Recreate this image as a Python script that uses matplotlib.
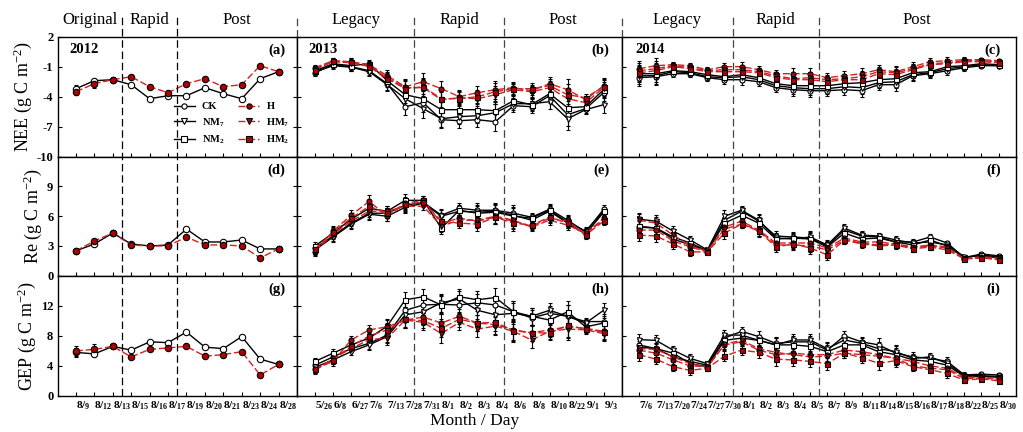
import matplotlib
matplotlib.use('Agg')
import matplotlib.pyplot as plt
from matplotlib.lines import Line2D
import matplotlib.transforms as mtransforms

plt.rcParams['font.family'] = 'Liberation Serif'
plt.rcParams['mathtext.fontset'] = 'custom'
plt.rcParams['mathtext.rm'] = 'Liberation Serif:bold'
plt.rcParams['mathtext.it'] = 'Liberation Serif:italic:bold'
plt.rcParams['mathtext.bf'] = 'Liberation Serif:bold'

# ---------------- data ----------------
dates_2012 = ['8/9', '8/12', '8/13', '8/15', '8/16', '8/17', '8/19', '8/20', '8/21', '8/23', '8/24', '8/28']
dates_2013 = ['5/26', '6/8', '6/27', '7/6', '7/13', '7/28', '7/31', '8/1', '8/2', '8/3', '8/4', '8/6', '8/8',
              '8/10', '8/22', '9/1', '9/3']
dates_2014 = ['7/6', '7/13', '7/20', '7/24', '7/27', '7/30', '8/1', '8/2', '8/3', '8/4', '8/5', '8/7', '8/9',
              '8/11', '8/14', '8/15', '8/16', '8/17', '8/18', '8/22', '8/25', '8/30']

phases_2012 = ['Original', 'Rapid', 'Post']
phases_2013 = ['Legacy', 'Rapid', 'Post']
phases_2014 = ['Legacy', 'Rapid', 'Post']

# 2012 (CK and H only)
nee_2012_ck = [-3.2, -2.4, -2.3, -2.8, -4.2, -3.9, -3.9, -3.1, -3.7, -4.2, -2.2, -1.5]
nee_2012_h = [-3.5, -2.7, -2.3, -2.0, -3.0, -3.6, -2.7, -2.2, -3.0, -2.8, -0.9, -1.5]
nee_2012_ck_err = [0.35, 0.2, 0, 0, 0, 0, 0, 0, 0, 0, 0, 0]
nee_2012_h_err = [0.3, 0.4, 0, 0, 0, 0, 0, 0, 0, 0, 0, 0]
re_2012_ck = [2.5, 3.2, 4.3, 3.2, 3.0, 3.1, 4.7, 3.4, 3.4, 3.6, 2.7, 2.7]
re_2012_h = [2.5, 3.5, 4.3, 3.1, 3.0, 3.0, 3.9, 3.1, 3.1, 3.0, 1.8, 2.7]
gep_2012_ck = [5.8, 5.6, 6.6, 6.1, 7.2, 7.1, 8.5, 6.5, 6.3, 7.9, 4.9, 4.2]
gep_2012_h = [6.0, 6.2, 6.6, 5.2, 6.2, 6.4, 6.6, 5.3, 5.5, 5.9, 2.8, 4.2]
gep_2012_ck_err = [0.6, 0.3, 0, 0, 0, 0, 0, 0, 0, 0, 0, 0]
gep_2012_h_err = [0.7, 0.7, 0, 0, 0, 0, 0, 0, 0, 0, 0, 0]

# 2013
nee_2013_ck = [-1.6, -0.8, -1.0, -1.4, -2.7, -5.0, -4.6, -6.3, -6.4, -6.3, -6.5, -4.9, -5.0, -3.9, -5.8, -5.2, -3.6]
nee_2013_nm7 = [-1.5, -0.9, -1.05, -1.5, -2.8, -4.2, -5.2, -6.2, -6.0, -5.9, -5.6, -4.7, -4.7, -4.5, -6.2, -5.3, -4.8]
nee_2013_nm2 = [-1.4, -0.7, -0.9, -0.7, -2.4, -3.8, -4.2, -5.3, -5.3, -5.3, -5.4, -4.4, -4.8, -3.7, -5.1, -5.0, -3.3]
nee_2013_h = [-1.1, -0.4, -0.5, -0.8, -1.9, -3.0, -2.5, -3.2, -4.0, -3.6, -3.3, -3.1, -3.4, -2.7, -3.3, -4.3, -2.9]
nee_2013_hm7 = [-1.2, -0.5, -0.6, -0.9, -2.1, -3.1, -3.1, -4.3, -4.1, -4.2, -3.8, -3.3, -3.5, -3.1, -4.2, -4.6, -3.1]
nee_2013_hm2 = [-1.3, -0.45, -0.55, -1.0, -2.2, -3.2, -3.0, -4.2, -4.2, -4.0, -3.5, -3.2, -3.2, -2.9, -3.8, -4.1, -3.0]
nee_2013_err = [0.3, 0.3, 0.4, 0.4, 0.6, 0.8, 0.9, 0.8, 0.7, 0.7, 0.9, 0.6, 0.6, 0.7, 1.1, 0.4, 0.8]

re_2013_ck = [2.8, 4.0, 5.3, 6.3, 6.3, 7.1, 7.4, 6.1, 6.8, 6.6, 6.6, 6.3, 5.9, 6.7, 5.6, 4.4, 6.7]
re_2013_nm7 = [2.6, 3.9, 5.2, 6.2, 6.0, 6.9, 7.3, 6.0, 6.5, 6.4, 6.5, 6.1, 5.6, 6.5, 5.3, 4.2, 6.4]
re_2013_nm2 = [3.0, 4.3, 5.7, 6.8, 6.5, 7.6, 7.6, 4.8, 6.6, 6.3, 6.4, 6.0, 5.8, 6.6, 5.4, 4.5, 6.5]
re_2013_h = [2.4, 4.5, 6.1, 7.5, 6.0, 7.3, 7.6, 5.3, 5.8, 5.5, 5.9, 5.5, 5.0, 5.8, 5.5, 4.2, 5.8]
re_2013_hm7 = [2.5, 4.2, 5.5, 6.5, 6.5, 7.0, 7.0, 5.0, 5.6, 5.6, 6.0, 5.6, 4.9, 5.6, 5.1, 4.3, 5.6]
re_2013_hm2 = [2.7, 4.4, 5.8, 7.0, 6.3, 7.2, 7.4, 5.5, 5.3, 5.2, 5.9, 5.3, 5.1, 5.9, 5.3, 4.1, 5.5]
re_2013_err = [0.4, 0.5, 0.5, 0.6, 0.5, 0.6, 0.4, 0.6, 0.5, 0.7, 0.7, 0.8, 0.4, 0.5, 0.5, 0.4, 0.4]

gep_2013_ck = [4.1, 5.2, 6.3, 7.0, 8.1, 11.4, 12.1, 12.2, 12.1, 12.4, 12.1, 11.2, 10.4, 11.0, 10.6, 9.9, 9.9]
gep_2013_nm7 = [3.8, 4.8, 5.9, 6.8, 7.9, 10.8, 11.2, 12.4, 12.9, 11.4, 10.8, 11.0, 10.6, 11.4, 10.6, 9.7, 11.4]
gep_2013_nm2 = [4.6, 5.7, 6.8, 7.7, 9.3, 12.8, 13.2, 12.1, 13.2, 12.8, 13.1, 11.2, 10.6, 10.1, 11.2, 9.2, 9.7]
gep_2013_h = [3.6, 4.6, 7.45, 8.8, 9.2, 10.1, 10.5, 9.7, 10.6, 9.7, 9.5, 8.8, 8.4, 8.8, 9.2, 9.0, 8.6]
gep_2013_hm7 = [3.4, 5.0, 6.3, 7.5, 7.7, 10.1, 9.8, 8.3, 9.8, 8.9, 9.3, 8.6, 7.45, 8.6, 8.9, 8.8, 8.3]
gep_2013_hm2 = [3.55, 4.8, 6.6, 8.0, 8.8, 10.2, 10.0, 9.0, 10.2, 9.7, 9.8, 8.7, 8.4, 8.4, 9.4, 8.9, 8.5]
gep_2013_err = [0.5, 0.6, 0.5, 0.7, 0.9, 1.0, 1.0, 1.2, 1.0, 1.1, 1.2, 1.4, 1.1, 1.0, 1.5, 0.5, 1.0]

# 2014
nee_2014_ck = [-2.1, -2.0, -1.7, -1.7, -2.1, -2.3, -2.3, -2.5, -3.1, -3.3, -3.4, -3.4, -3.3, -3.4, -2.8, -2.8,
               -1.9, -1.7, -1.4, -1.1, -0.9, -0.9]
nee_2014_nm7 = [-1.9, -1.9, -1.5, -1.6, -2.0, -2.1, -2.0, -2.3, -2.9, -3.1, -3.2, -3.2, -3.0, -3.1, -2.6, -2.5,
                -1.8, -1.6, -1.2, -1.0, -0.8, -0.9]
nee_2014_nm2 = [-1.7, -1.7, -1.4, -1.5, -1.8, -2.0, -1.8, -2.1, -2.7, -2.9, -2.9, -2.9, -2.7, -2.6, -2.3, -2.2,
                -1.6, -1.5, -1.0, -0.9, -0.7, -0.8]
nee_2014_h = [-1.2, -0.9, -0.8, -0.9, -1.3, -1.0, -1.0, -1.3, -1.7, -1.7, -1.7, -2.1, -1.9, -1.7, -1.3, -1.5,
              -1.0, -0.5, -0.4, -0.3, -0.3, -0.4]
nee_2014_hm7 = [-1.4, -1.2, -0.9, -1.1, -1.4, -1.3, -1.3, -1.5, -1.9, -2.2, -2.1, -2.3, -2.2, -2.0, -1.5, -1.6,
                -1.2, -0.7, -0.6, -0.4, -0.4, -0.5]
nee_2014_hm2 = [-1.6, -1.4, -1.0, -1.2, -1.5, -1.5, -1.5, -1.6, -2.1, -2.3, -2.3, -2.5, -2.3, -2.3, -1.7, -1.8,
                -1.3, -0.8, -0.7, -0.5, -0.5, -0.6]
nee_2014_err = [0.8, 0.8, 0.3, 0.3, 0.3, 0.4, 0.5, 0.4, 0.4, 0.6, 0.6, 0.5, 0.5, 0.6, 0.5, 0.6, 0.5, 0.4, 0.4,
                0.3, 0.2, 0.2]

re_2014_ck = [4.9, 4.8, 3.7, 3.1, 2.5, 5.6, 6.5, 5.5, 4.0, 3.9, 3.8, 3.0, 4.6, 4.0, 3.9, 3.4, 3.4, 3.9, 3.3, 1.8,
              2.2, 2.0]
re_2014_nm7 = [5.7, 5.5, 4.5, 3.6, 2.6, 6.0, 6.6, 5.6, 3.8, 3.7, 3.9, 3.1, 4.8, 4.1, 4.0, 3.6, 3.3, 3.4, 3.1, 1.9,
               2.0, 1.8]
re_2014_nm2 = [5.0, 4.8, 3.9, 3.3, 2.5, 5.3, 6.1, 5.3, 3.7, 3.8, 3.7, 2.9, 4.3, 3.7, 3.8, 3.4, 3.1, 3.6, 3.0, 1.8,
               2.1, 1.9]
re_2014_h = [4.6, 4.6, 3.5, 2.9, 2.4, 4.9, 5.5, 4.6, 3.3, 3.3, 3.3, 2.8, 3.8, 3.4, 3.4, 3.2, 2.9, 3.1, 2.9, 1.7,
             1.9, 1.8]
re_2014_hm7 = [5.6, 5.3, 4.1, 3.0, 2.5, 4.7, 5.2, 4.6, 3.1, 3.1, 3.0, 2.6, 3.6, 3.3, 3.1, 3.2, 2.8, 3.0, 2.8, 1.7,
               1.8, 1.7]
re_2014_hm2 = [4.1, 4.0, 3.2, 2.4, 2.4, 4.3, 5.2, 4.5, 2.9, 3.2, 2.8, 2.1, 3.6, 3.2, 3.0, 3.1, 2.7, 2.9, 2.6, 1.7,
               1.8, 1.6]
re_2014_err = [0.6, 0.6, 0.5, 0.4, 0.2, 0.6, 0.4, 0.6, 0.5, 0.5, 0.6, 0.5, 0.4, 0.4, 0.3, 0.4, 0.3, 0.3, 0.2,
               0.2, 0.2, 0.2]

gep_2014_ck = [6.8, 6.3, 5.2, 4.6, 4.1, 7.7, 8.6, 7.9, 7.0, 7.2, 7.2, 6.1, 8.0, 7.2, 6.8, 5.7, 5.2, 5.0, 4.6, 2.8,
               2.9, 2.8]
gep_2014_nm7 = [7.5, 7.4, 6.1, 5.0, 4.3, 8.1, 8.1, 7.4, 6.8, 7.45, 7.45, 6.3, 7.45, 7.0, 6.3, 5.9, 5.0, 5.2, 4.35,
                2.7, 2.7, 2.6]
gep_2014_nm2 = [6.5, 6.3, 5.7, 4.3, 3.9, 7.4, 7.7, 7.4, 6.8, 6.8, 6.6, 5.9, 6.8, 6.8, 5.9, 5.5, 4.8, 4.6, 4.1, 2.6,
                2.6, 2.5]
gep_2014_h = [6.1, 5.7, 4.8, 4.0, 3.9, 6.8, 7.2, 6.1, 5.5, 5.7, 5.5, 5.5, 6.1, 5.9, 5.5, 5.0, 4.6, 4.0, 3.7, 2.5,
              2.5, 2.35]
gep_2014_hm7 = [6.3, 6.2, 5.2, 4.3, 3.8, 6.9, 7.4, 6.3, 5.8, 5.5, 5.2, 5.3, 5.7, 5.5, 5.3, 5.0, 4.0, 3.7, 3.5, 2.3,
                2.4, 2.2]
gep_2014_hm2 = [5.5, 4.9, 3.9, 3.4, 3.7, 5.3, 6.1, 5.8, 4.9, 4.8, 4.6, 4.3, 5.7, 5.1, 4.35, 4.7, 3.9, 3.5, 3.0,
                2.1, 2.3, 2.0]
gep_2014_err = [0.8, 0.7, 0.6, 0.6, 0.4, 0.7, 0.6, 0.7, 0.9, 0.8, 0.8, 0.9, 0.6, 0.7, 0.9, 0.9, 0.6, 0.5, 0.6,
                0.4, 0.3, 0.3]

treatments = ['CK', 'NM7', 'NM2', 'H', 'HM7', 'HM2']
legend_labels = ['CK', 'NM$_{7}$', 'NM$_{2}$', 'H', 'HM$_{7}$', 'HM$_{2}$']

# ---------------- styles ----------------
RED_LINE = '#D42020'
RED_FILL = '#B00000'
DASH = (0, (5, 2))
styles = {
    'CK': dict(color='black', ls='-', marker='o', mfc='white', mec='black'),
    'NM7': dict(color='black', ls='-', marker='v', mfc='white', mec='black'),
    'NM2': dict(color='black', ls='-', marker='s', mfc='white', mec='black'),
    'H': dict(color=RED_LINE, ls=DASH, marker='o', mfc=RED_FILL, mec='black'),
    'HM7': dict(color=RED_LINE, ls=DASH, marker='v', mfc=RED_FILL, mec='black'),
    'HM2': dict(color=RED_LINE, ls=DASH, marker='s', mfc=RED_FILL, mec='black'),
}

W, H = 1023, 432
fig = plt.figure(figsize=(W / 100, H / 100), dpi=100)
col_px = [(57.5, 297.0), (297.0, 621.7), (621.7, 1015.7)]
row_px = [(36.7, 156.7), (156.7, 275.7), (275.7, 396.0)]

col_dates = [dates_2012, dates_2013, dates_2014]
col_phases = [phases_2012, phases_2013, phases_2014]
col_div = [[3.5, 6.5], [6.5, 11.5], [6.5, 11.5]]
col_year = ['2012', '2013', '2014']
panel_letters = [['(a)', '(b)', '(c)'], ['(d)', '(e)', '(f)'], ['(g)', '(h)', '(i)']]

row_ylim = [(-10, 2), (0, 12), (0, 16)]
row_ticks = [[-10, -7, -4, -1, 2], [0, 3, 6, 9, 12], [0, 4, 8, 12, 16]]
row_ticklabels = [['-10', '-7', '-4', '-1', '2'], ['0', '3', '6', '9', ''], ['0', '4', '8', '12', '']]
row_ylabel = ['NEE (g C m$\\mathregular{^{-2}}$)', 'Re (g C m$\\mathregular{^{-2}}$)',
              'GEP (g C m$\\mathregular{^{-2}}$)']

data_2012 = [
    [(nee_2012_ck, nee_2012_ck_err), (nee_2012_h, nee_2012_h_err)],
    [(re_2012_ck, None), (re_2012_h, None)],
    [(gep_2012_ck, gep_2012_ck_err), (gep_2012_h, gep_2012_h_err)],
]
data_2013 = [
    ([nee_2013_ck, nee_2013_nm7, nee_2013_nm2, nee_2013_h, nee_2013_hm7, nee_2013_hm2], nee_2013_err),
    ([re_2013_ck, re_2013_nm7, re_2013_nm2, re_2013_h, re_2013_hm7, re_2013_hm2], re_2013_err),
    ([gep_2013_ck, gep_2013_nm7, gep_2013_nm2, gep_2013_h, gep_2013_hm7, gep_2013_hm2], gep_2013_err),
]
data_2014 = [
    ([nee_2014_ck, nee_2014_nm7, nee_2014_nm2, nee_2014_h, nee_2014_hm7, nee_2014_hm2], nee_2014_err),
    ([re_2014_ck, re_2014_nm7, re_2014_nm2, re_2014_h, re_2014_hm7, re_2014_hm2], re_2014_err),
    ([gep_2014_ck, gep_2014_nm7, gep_2014_nm2, gep_2014_h, gep_2014_hm7, gep_2014_hm2], gep_2014_err),
]


def tick_label(s):
    m, d = s.split('/')
    return '$\\mathit{%s/_{%s}}$' % (m, d)


def plot_series(ax, x, y, err, key, ms):
    st = styles[key]
    ax.errorbar(x, y, yerr=err, color=st['color'], ls=st['ls'], lw=1.0,
                marker=st['marker'], ms=ms, mfc=st['mfc'], mec=st['mec'], mew=0.8,
                ecolor='black', elinewidth=0.8, capsize=1.6, capthick=0.8, zorder=3)


axes = [[None] * 3 for _ in range(3)]
for r, (t, b) in enumerate(row_px):
    for c, (l, rr) in enumerate(col_px):
        ax = fig.add_axes([l / W, 1 - b / H, (rr - l) / W, (b - t) / H])
        axes[r][c] = ax
        n = len(col_dates[c])
        x = list(range(1, n + 1))
        ax.set_xlim(0, n + 1)
        ax.set_ylim(*row_ylim[r])
        ax.set_yticks(row_ticks[r])
        ax.set_xticks(x)
        ax.tick_params(direction='in', length=2.8, width=0.8, top=False)
        if c == 0:
            ax.set_yticklabels(row_ticklabels[r], fontsize=9, fontweight='bold')
            ax.tick_params(axis='y', right=True, pad=3)
            ax.set_ylabel(row_ylabel[r], fontsize=13, labelpad=2)
        else:
            ax.set_yticklabels([])
        if r == 2:
            ax.set_xticklabels([tick_label(s) for s in col_dates[c]], fontsize=8.2, ha='left')
            ax.tick_params(axis='x', pad=2.5)
        else:
            ax.set_xticklabels([])
        for sp in ax.spines.values():
            sp.set_linewidth(1.0)

        # data
        if c == 0:
            (yck, eck), (yh, eh) = data_2012[r]
            plot_series(ax, x, yck, eck, 'CK', 4.6)
            plot_series(ax, x, yh, eh, 'H', 4.6)
        else:
            series, err = (data_2013 if c == 1 else data_2014)[r]
            for key, y in zip(treatments, series):
                plot_series(ax, x, y, err, key, 3.6)

        if r == 0:
            ax.text(0.035 if c else 0.048, 0.89, col_year[c], transform=ax.transAxes, fontsize=10.5,
                    fontweight='bold', ha='left', va='center')
        ax.text(0.962 if c else 0.952, 0.885, panel_letters[r][c], transform=ax.transAxes, fontsize=10.5,
                fontweight='bold', ha='right', va='center')

# legend in panel (a)
handles = []
for key in treatments:
    st = styles[key]
    handles.append(Line2D([], [], color=st['color'], ls=st['ls'], lw=1.0, marker=st['marker'], ms=3.8,
                          mfc=st['mfc'], mec=st['mec'], mew=0.8))
axes[0][0].legend(handles, legend_labels, ncol=2, loc='lower right', bbox_to_anchor=(1.0, 0.03),
                  frameon=False, prop={'family': 'Liberation Serif', 'weight': 'bold', 'size': 7.5},
                  handlelength=2.0, handletextpad=0.7, columnspacing=1.3, labelspacing=0.45,
                  borderpad=0.2)

# phase dividers and headers
y_top = 1 - 15 / H
y_bot = 1 - 396 / H
y_head = 1 - 20 / H
for c in range(3):
    ax = axes[0][c]
    trans = mtransforms.blended_transform_factory(ax.transData, fig.transFigure)
    colr = 'black' if c == 0 else '#444444'
    for xd in col_div[c]:
        fig.add_artist(Line2D([xd, xd], [y_bot, y_top], transform=trans, color=colr, lw=0.9,
                              ls=(0, (6, 3)), zorder=5))
    n = len(col_dates[c])
    edges = [0] + col_div[c] + [n + 1]
    for i, name in enumerate(col_phases[c]):
        xc = (edges[i] + edges[i + 1]) / 2
        fig.text(xc, y_head, name, transform=trans, fontsize=12, ha='center', va='center')

for xp in [297.0, 621.7]:
    fig.add_artist(Line2D([xp / W, xp / W], [1 - 36.7 / H, y_top], transform=fig.transFigure,
                          color='#444444', lw=0.9, ls=(0, (6, 3))))

fig.text(475 / W, 1 - 421 / H, 'Month / Day', fontsize=12.5, ha='center', va='center')

fig.savefig('out.png', dpi=100)
